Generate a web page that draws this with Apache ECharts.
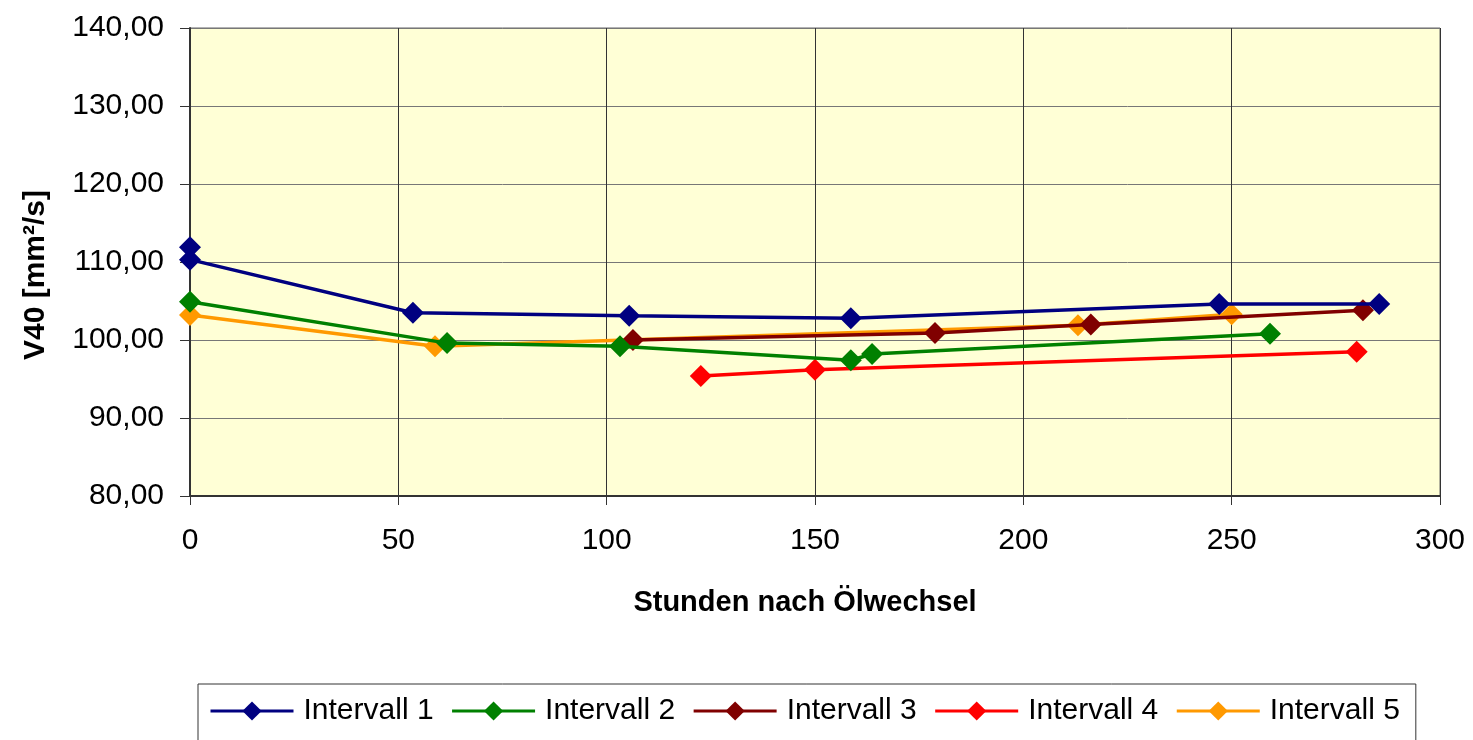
<!DOCTYPE html>
<html lang="de" style="height: 100%">
<head>
  <meta charset="utf-8">
</head>
<body style="height: 100%; margin: 0; background: #fff">
  <div id="container" style="height: 100%"></div>

  <script type="text/javascript" src="https://fastly.jsdelivr.net/npm/echarts@6/dist/echarts.min.js"></script>
  <script type="text/javascript">
    // Werte
    var seriesNames = ['Intervall 1', 'Intervall 2', 'Intervall 3', 'Intervall 4', 'Intervall 5'];
    var hours1 = [0, 0, 53.5, 105.4, 158.6, 247, 285.4];
    var v40_1  = [111.9, 110.3, 103.5, 103.1, 102.8, 104.6, 104.6];
    var hours2 = [0, 61.7, 103.2, 158.6, 163.7, 259.2];
    var v40_2  = [104.9, 99.6, 99.2, 97.4, 98.2, 100.8];
    var hours3 = [106.3, 178.8, 216.2, 281.5];
    var v40_3  = [100.0, 100.9, 102.0, 103.8];
    var hours4 = [122.6, 150, 280];
    var v40_4  = [95.4, 96.2, 98.5];
    var hours5 = [0, 58.8, 213.1, 250];
    var v40_5  = [103.2, 99.2, 101.9, 103.3];
    var colors = ['#000080', '#008000', '#800000', '#ff0000', '#ff9900'];

    var allHours = [hours1, hours2, hours3, hours4, hours5];
    var allV40 = [v40_1, v40_2, v40_3, v40_4, v40_5];

    function pairs(xs, ys) {
      return xs.map(function (x, i) { return [x, ys[i]]; });
    }

    var dom = document.getElementById('container');
    var myChart = echarts.init(dom, null, { renderer: 'canvas' });

    var series = seriesNames.map(function (name, i) {
      return {
        name: name,
        type: 'line',
        data: pairs(allHours[i], allV40[i]),
        symbol: 'diamond',
        symbolSize: 22,
        color: colors[i],
        lineStyle: { width: 3.5, color: colors[i] },
        itemStyle: { color: colors[i] },
        z: 10 - i
      };
    });

    var option = {
      backgroundColor: '#ffffff',
      textStyle: { fontFamily: 'Liberation Sans, Arial, sans-serif' },
      animation: false,
      grid: {
        left: 190,
        right: 33,
        top: 28,
        bottom: 244,
        show: true,
        backgroundColor: '#ffffd6',
        borderColor: '#666',
        borderWidth: 1
      },
      xAxis: {
        type: 'value',
        min: 0,
        max: 300,
        interval: 50,
        name: 'Stunden nach Ölwechsel',
        nameLocation: 'middle',
        nameGap: 92,
        nameTextStyle: { fontSize: 29, fontWeight: 'bold', color: '#000', padding: [0, 20, 0, 0] },
        axisLine: { lineStyle: { color: '#333', width: 2 } },
        axisTick: { show: true, length: 9, lineStyle: { color: '#333' } },
        axisLabel: { fontSize: 30, color: '#000', margin: 30 },
        splitLine: { show: true, lineStyle: { color: '#333', width: 1 } }
      },
      yAxis: {
        type: 'value',
        min: 80,
        max: 140,
        interval: 10,
        name: 'V40 [mm²/s]',
        nameLocation: 'middle',
        nameGap: 139,
        nameRotate: 90,
        nameTextStyle: { fontSize: 30, fontWeight: 'bold', color: '#000', padding: [0, 26, 0, 0] },
        axisLine: { show: true, lineStyle: { color: '#333', width: 2 } },
        axisTick: { show: true, length: 10, lineStyle: { color: '#333' } },
        axisLabel: {
          fontSize: 30,
          color: '#000',
          margin: 26,
          formatter: function (v) { return v.toFixed(2).replace('.', ','); }
        },
        splitLine: { show: true, lineStyle: { color: '#777', width: 1 } }
      },
      legend: {
        data: seriesNames,
        left: 198,
        top: 684,
        orient: 'horizontal',
        itemWidth: 83,
        itemHeight: 24,
        itemGap: 17,
        padding: [12, 16, 20, 11],
        borderColor: '#333',
        borderWidth: 1,
        lineStyle: { width: 3 },
        textStyle: { fontSize: 30, color: '#000', padding: [0, 0, 0, 5] }
      },
      series: series
    };

    myChart.setOption(option);
    window.addEventListener('resize', myChart.resize);
  </script>
</body>
</html>
